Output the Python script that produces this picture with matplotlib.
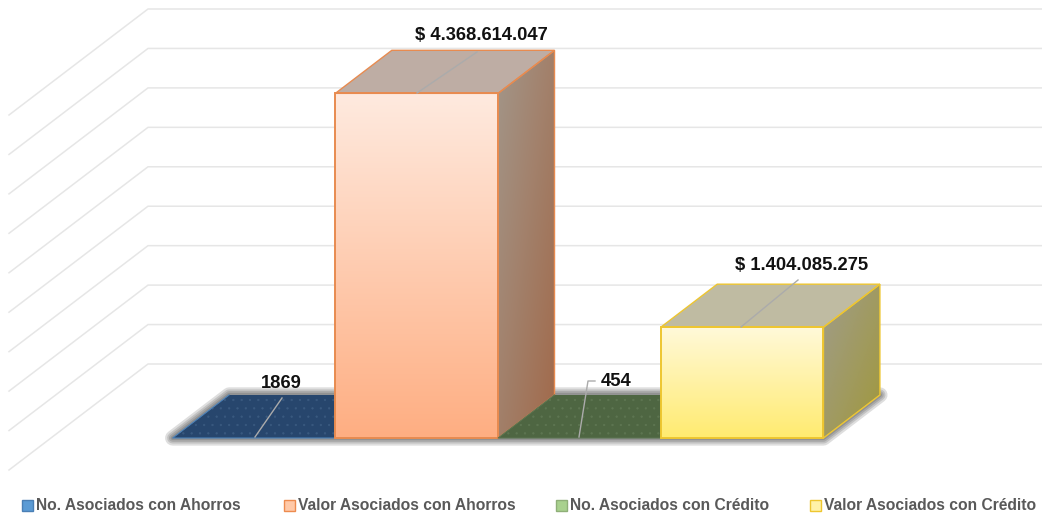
import numpy as np
import matplotlib
matplotlib.use("Agg")
import matplotlib.pyplot as plt
from matplotlib.colors import LinearSegmentedColormap
from matplotlib.patches import Polygon, Rectangle

CATEGORIES = ["No. Asociados con Ahorros", "Valor Asociados con Ahorros",
              "No. Asociados con Crédito", "Valor Asociados con Crédito"]
VALUES = [1869, 4368614047, 454, 1404085275]
GRID_VALUES = np.arange(0, 4.5e9 + 1, 5e8)
LABELS = ["1869", "$ 4.368.614.047", "454", "$ 1.404.085.275"]

# layout of the oblique view, in pixels
W, H = 1042, 514
X_ORIGIN = 269.7
BAR_W = 162.7
WALL_X = 148
WALL_Y = 364
DEPTH_X = 139
DEPTH_Y = 106
PX_PER_UNIT = 355 / 4.5e9
D_FRONT = 0.698
D_BACK = 0.292

plt.rcParams['font.family'] = ['Liberation Sans Narrow', 'Liberation Sans', 'DejaVu Sans']
plt.rcParams['hatch.linewidth'] = 0.4


def project(cat, val, depth):
    """Return the pixel position of a point of the oblique chart."""
    x = X_ORIGIN + cat * BAR_W - DEPTH_X * depth
    y = WALL_Y - val * PX_PER_UNIT + DEPTH_Y * depth
    return x, y


def gradient_poly(ax, pts, c_start, c_end, diagonal=False, zorder=3):
    """Fill a polygon with a vertical (or diagonal) gradient."""
    pts = np.array(pts)
    x0, x1 = pts[:, 0].min(), pts[:, 0].max()
    y0, y1 = pts[:, 1].min(), pts[:, 1].max()
    yy, xx = np.mgrid[0:1:200j, 0:1:200j]
    grad = (yy + xx) / 2 if diagonal else yy
    cmap = LinearSegmentedColormap.from_list("g", [c_start, c_end])
    im = ax.imshow(grad, extent=(x0, x1, y1, y0), cmap=cmap, vmin=0, vmax=1,
                   aspect="auto", zorder=zorder, interpolation="bilinear")
    clip = Polygon(pts, closed=True, transform=ax.transData, facecolor="none", edgecolor="none")
    ax.add_patch(clip)
    im.set_clip_path(clip)


def draw_box(ax, i, val, style, zorder):
    fl = project(i, 0, D_FRONT)
    fr = project(i + 1, 0, D_FRONT)
    ftl = project(i, val, D_FRONT)
    ftr = project(i + 1, val, D_FRONT)
    btl = project(i, val, D_BACK)
    btr = project(i + 1, val, D_BACK)
    br = project(i + 1, 0, D_BACK)
    edge = style["edge"]
    top = [ftl, btl, btr, ftr]
    side = [ftr, btr, br, fr]
    front = [fl, fr, ftr, ftl]
    gradient_poly(ax, side, style["side"][0], style["side"][1], diagonal=True, zorder=zorder)
    gradient_poly(ax, front, style["front"][0], style["front"][1], zorder=zorder)
    ax.add_patch(Polygon(top, closed=True, facecolor=style["top"], edgecolor=edge, lw=1.0, zorder=zorder + 0.1))
    ax.add_patch(Polygon(side, closed=True, fill=False, edgecolor=edge, lw=1.0, zorder=zorder + 0.1))
    ax.add_patch(Polygon(front, closed=True, fill=False, edgecolor=edge, lw=1.4, zorder=zorder + 0.2))


def draw_flat(ax, i, val, style, zorder):
    pts = [project(i, val, D_FRONT), project(i, val, D_BACK),
           project(i + 1, val, D_BACK), project(i + 1, val, D_FRONT)]
    ax.add_patch(Polygon(pts, closed=True, facecolor=style["top"], edgecolor="none", zorder=zorder))
    ax.add_patch(Polygon(pts, closed=True, fill=False, edgecolor=style["dots"], lw=0, hatch="..", zorder=zorder))
    ax.plot([pts[1][0], pts[0][0], pts[3][0]], [pts[1][1], pts[0][1], pts[3][1]],
            color=style["edge"], lw=0.8, zorder=zorder)


STYLES = [
    {"top": "#27466D", "edge": "#4A7FB5", "dots": "#3A5A80"},
    {"front": ("#FEEADF", "#FFAE82"), "side": ("#A39689", "#A1694A"), "top": "#BEADA4", "edge": "#E88B50"},
    {"top": "#4E6642", "edge": "#5A7350", "dots": "#5E7652"},
    {"front": ("#FFF9D9", "#FFEB70"), "side": ("#A09D8A", "#A0983C"), "top": "#BFBBA2", "edge": "#EEC630"},
]
LEGEND_SWATCH = [("#5B9BD5", "#4A7FB5"), ("#FFC9A8", "#ED8B4F"), ("#A9D18E", "#8FAF78"), ("#FFF2A8", "#EEC630")]
LEGEND_X = [22, 284, 556, 810]

# label centres and leader lines, in pixels
LABEL_POS = [(281, 384), (481, 35), (616, 381), (802, 265)]
LEADERS = [
    ([255, 282], [437, 398]),
    ([417, 477], [93, 52]),
    ([579, 588, 595], [437, 381, 381]),
    ([741, 798], [327, 280]),
]

fig = plt.figure(figsize=(W / 100, H / 100), dpi=100)
ax = fig.add_axes([0, 0, 1, 1])

# grid: floor/side lines then back wall
for v in GRID_VALUES:
    wall_y = WALL_Y - v * PX_PER_UNIT
    ax.plot([WALL_X - DEPTH_X, WALL_X, W], [wall_y + DEPTH_Y, wall_y, wall_y],
            color="#E6E6E6", lw=1.1, zorder=1, solid_joinstyle="miter")

# soft shadow under the row of bars
shadow = [project(0, 0, D_FRONT), project(0, 0, D_BACK), project(4, 0, D_BACK), project(4, 0, D_FRONT)]
for lw in [11, 8, 5.5, 3]:
    ax.add_patch(Polygon(shadow, closed=True, facecolor="none", edgecolor="black", alpha=0.13,
                         lw=lw, joinstyle="round", zorder=2))
ax.add_patch(Polygon(shadow, closed=True, facecolor="white", edgecolor="none", zorder=2.1))

for i, val in enumerate(VALUES):
    if "front" in STYLES[i]:
        draw_box(ax, i, val, STYLES[i], zorder=4 + i)
    else:
        draw_flat(ax, i, val, STYLES[i], zorder=4 + i)

for xs, ys in LEADERS:
    ax.plot(xs, ys, color="#ABABAB", lw=1.0, zorder=9)

for label, (x, y) in zip(LABELS, LABEL_POS):
    ax.text(x, y, label, ha="center", va="center", fontsize=13.2, fontweight="bold",
            color="#111111", zorder=10)

for name, x, (fc, ec) in zip(CATEGORIES, LEGEND_X, LEGEND_SWATCH):
    ax.add_patch(Rectangle((x, 500), 11, 11, facecolor=fc, edgecolor=ec, lw=1, zorder=10))
    ax.text(x + 14.5, 505.5, name, ha="left", va="center", fontsize=11.25, fontweight="bold",
            color="#595959", zorder=10,
            family=['Liberation Sans', 'DejaVu Sans'])

ax.set_xlim(0, W)
ax.set_ylim(H, 0)
ax.axis("off")

fig.savefig("out.png", dpi=100, facecolor="white")
